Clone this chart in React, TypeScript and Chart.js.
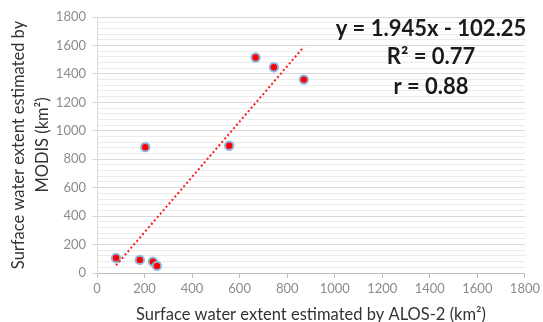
import React, { useEffect, useRef } from "react";
import { Chart, registerables } from "chart.js";

Chart.register(...registerables);

const alosX = [80, 180, 235, 252, 203, 556, 667, 744, 870];
const modisY = [105, 92, 80, 50, 885, 895, 1515, 1447, 1360];
const trendX = [80, 870];
const trendY = [53, 1590];
const annotationLines = ["y = 1.945x - 102.25", "R\u00B2 = 0.77", "r = 0.88"];
const xTitle = "Surface water extent estimated by ALOS-2 (km\u00B2)";
const yTitle = ["Surface water extent estimated by", "MODIS (km\u00B2)"];

const FONT = "Lato, 'Open Sans', sans-serif";

const annotationPlugin = {
  id: "eqnText",
  afterDatasetsDraw(chart: any) {
    const { ctx, scales } = chart;
    const cx = scales.x.getPixelForValue(1405);
    const ys = [1715, 1517, 1306].map((v) => scales.y.getPixelForValue(v));
    ctx.save();
    ctx.fillStyle = "#1a1a1a";
    ctx.font = `bold 22px ${FONT}`;
    ctx.textAlign = "center";
    ctx.textBaseline = "middle";
    annotationLines.forEach((t, i) => ctx.fillText(t, cx, ys[i]));
    ctx.restore();
  },
};

export default function App() {
  const ref = useRef<HTMLCanvasElement | null>(null);
  useEffect(() => {
    if (!ref.current) return;
    const chart = new Chart(ref.current, {
      type: "scatter",
      data: {
        datasets: [
          {
            type: "line",
            data: trendX.map((x, i) => ({ x, y: trendY[i] })),
            borderColor: "#ff1a1a",
            borderWidth: 2,
            borderDash: [2, 2.5],
            pointRadius: 0,
            fill: false,
            order: 0,
          } as any,
          {
            data: alosX.map((x, i) => ({ x, y: modisY[i] })),
            backgroundColor: "#ff0000",
            borderColor: "#8fb6e0",
            borderWidth: 2,
            pointRadius: 4.2,
            order: 1,
          },
        ],
      },
      options: {
        responsive: false,
        animation: false,
        layout: { padding: { top: 17, right: 14, left: 0, bottom: 0 } },
        plugins: { legend: { display: false }, tooltip: { enabled: false } },
        scales: {
          x: {
            type: "linear",
            min: 0,
            max: 1800,
            afterFit: (s: any) => {
              s.height = 49;
            },
            ticks: {
              stepSize: 200,
              color: "#8c8c8c",
              font: { family: FONT, size: 13 },
              padding: 3,
              maxRotation: 0,
              callback: (v: any) => String(v),
            },
            grid: {
              drawOnChartArea: false,
              drawTicks: true,
              tickLength: 5,
              tickColor: "#bfbfbf",
            },
            border: { display: true, color: "#bfbfbf" },
            title: {
              display: true,
              text: xTitle,
              color: "#333333",
              font: { family: FONT, size: 16.5 },
              padding: { top: 0, bottom: -3 },
            },
          },
          y: {
            type: "linear",
            min: 0,
            max: 1800,
            afterFit: (s: any) => {
              s.width = 97;
            },
            ticks: {
              stepSize: 40,
              autoSkip: false,
              color: "#8c8c8c",
              font: { family: FONT, size: 13 },
              padding: 6,
              callback: (v: any) => (Number(v) % 200 === 0 ? String(v) : ""),
            },
            grid: {
              tickLength: 5,
              color: (c: any) =>
                c.tick && c.tick.value % 200 === 0 ? "#d9d9d9" : "#ebebeb",
              tickColor: (c: any) =>
                c.tick && c.tick.value % 200 === 0 ? "#d9d9d9" : "rgba(0,0,0,0)",
            },
            border: { display: true, color: "#d9d9d9" },
            title: {
              display: true,
              text: yTitle,
              color: "#333333",
              font: { family: FONT, size: 16.5, lineHeight: 1.45 },
              padding: { top: 7, bottom: 0 },
            },
          },
        },
      },
      plugins: [annotationPlugin],
    });
    return () => chart.destroy();
  }, []);
  return (
    <div style={{ position: "absolute", left: 0, top: 0, width: 543, height: 322, background: "#fff" }}>
      <canvas ref={ref} width={543} height={322} />
    </div>
  );
}
